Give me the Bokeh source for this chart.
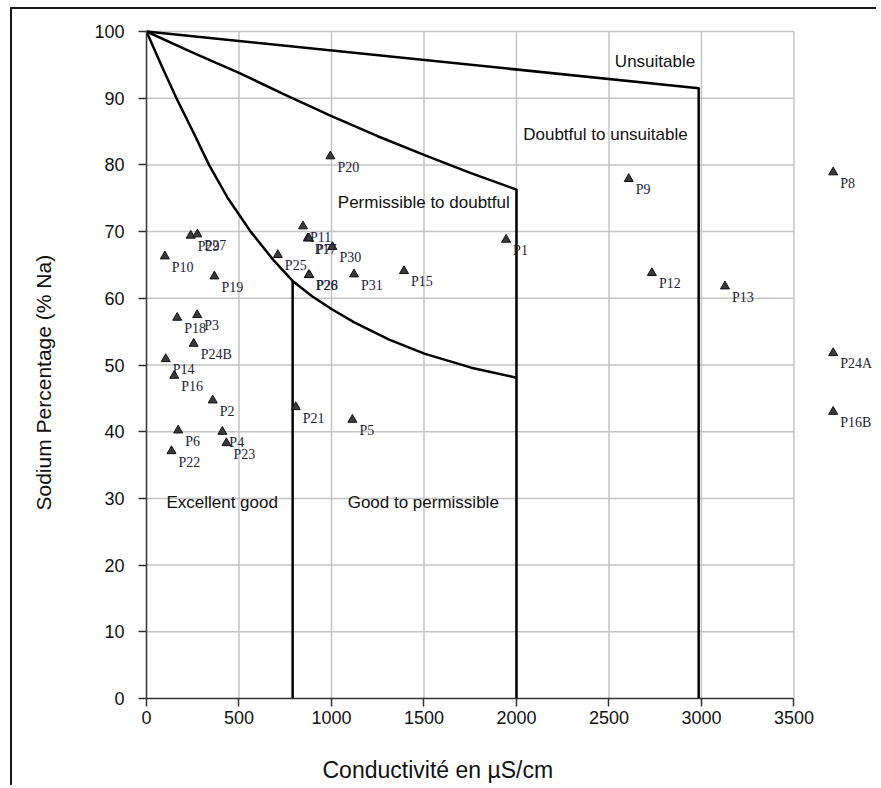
from bokeh.plotting import figure
from bokeh.models import Range1d, FixedTicker, ColumnDataSource, Title
from bokeh.core.properties import value
from bokeh.embed import file_html
from bokeh.resources import INLINE

# ---------------- data ----------------
names = ["P29", "P27", "P10", "P19", "P18", "P3", "P24B", "P14", "P16", "P2",
         "P6", "P4", "P23", "P22", "P21", "P25", "P11", "P17", "P7", "P30",
         "P26", "P28", "P31", "P15", "P1", "P20", "P5", "P9", "P12", "P13",
         "P8", "P24A", "P16B"]
conductivity = [239, 275, 99, 367, 166, 274, 255, 104, 150, 358,
                171, 410, 432, 135, 807, 710, 846, 872, 878, 1005,
                877, 880, 1122, 1392, 1944, 994, 1113, 2607, 2732, 3127,
                3712, 3712, 3712]
sodium_pct = [69.4, 69.6, 66.3, 63.3, 57.1, 57.5, 53.2, 50.9, 48.4, 44.7,
              40.2, 40.0, 38.3, 37.1, 43.7, 66.5, 70.8, 69.0, 69.0, 67.7,
              63.5, 63.5, 63.6, 64.1, 68.8, 81.3, 41.8, 77.9, 63.8, 61.8,
              78.9, 51.8, 43.0]

# Wilcox class boundaries
b_unsuit_x = [0, 2985, 2985]
b_unsuit_y = [100, 91.5, 0]
b_doubt_x = [0, 238, 500, 750, 1000, 1250, 1500, 1750, 2000, 2000]
b_doubt_y = [100, 97.0, 93.8, 90.5, 87.3, 84.3, 81.5, 78.8, 76.3, 0]
b_perm_x = [0, 79, 162, 251, 338, 440, 563, 690, 790, 895, 1000, 1123, 1312,
            1502, 1755, 2000]
b_perm_y = [100, 95.0, 90.0, 85.0, 80.0, 75.0, 70.0, 65.6, 62.6, 60.3, 58.4,
            56.4, 53.8, 51.7, 49.6, 48.1]
b_good_x = [790, 790]
b_good_y = [62.6, 0]

zone_names = ["Unsuitable", "Doubtful to unsuitable", "Permissible to doubtful",
              "Excellent good", "Good to permissible"]

x_ticks = [0, 500, 1000, 1500, 2000, 2500, 3000, 3500]
y_ticks = [0, 10, 20, 30, 40, 50, 60, 70, 80, 90, 100]

x_title = "Conductivité en µS/cm"
y_title = "Sodium Percentage (% Na)"

# ---------------- figure ----------------
SANS = "Liberation Sans"
SERIF = "Liberation Serif"

p = figure(width=866, height=778, output_backend="svg", toolbar_location=None,
           x_range=Range1d(0, 3957), y_range=Range1d(0, 101.5),
           min_border_left=134, min_border_right=0, min_border_top=12,
           min_border_bottom=89)
p.margin = (7, 0, 0, 10)
p.styles = {"border-left": "2px solid #1a1a1a", "border-top": "2px solid #1a1a1a"}
p.outline_line_color = None
p.xgrid.grid_line_color = None
p.ygrid.grid_line_color = None
p.background_fill_color = "white"
p.border_fill_color = "white"

# grid limited to the 0..3500 / 0..100 box
p.segment(x0=x_ticks[1:], y0=y_ticks[0], x1=x_ticks[1:], y1=y_ticks[-1],
          line_color="#c4c4c4", line_width=1.5)
p.segment(x0=x_ticks[0], y0=y_ticks[1:], x1=x_ticks[-1], y1=y_ticks[1:],
          line_color="#c4c4c4", line_width=1.5)

for ax, ticks in ((p.xaxis[0], x_ticks), (p.yaxis[0], y_ticks)):
    ax.ticker = FixedTicker(ticks=ticks)
    ax.bounds = (ticks[0], ticks[-1])
    ax.axis_line_color = "#333333"
    ax.axis_line_width = 1.5
    ax.major_tick_line_color = "#333333"
    ax.major_tick_line_width = 1.5
    ax.major_tick_out = 8
    ax.major_tick_in = 0
    ax.minor_tick_line_color = None
    ax.major_label_text_font = SANS
    ax.major_label_text_font_size = "18px"
    ax.major_label_text_color = "#111111"
p.xaxis[0].major_label_standoff = 4
p.yaxis[0].major_label_standoff = 14
p.yaxis[0].major_label_orientation = "horizontal"

# boundaries
for bx, by in ((b_unsuit_x, b_unsuit_y), (b_doubt_x, b_doubt_y),
               (b_perm_x, b_perm_y), (b_good_x, b_good_y)):
    p.line(bx, by, line_color="#000000", line_width=2.5, line_join="round")

# zone labels
zone_x = [2749, 2481, 1499, 409, 1496]
zone_y = [95.5, 84.6, 74.4, 29.4, 29.4]
p.text(x=zone_x, y=zone_y, text=zone_names, text_align="center",
       text_baseline="middle", text_font=value(SANS), text_font_size="17px",
       text_color="#111111")

# samples
src = ColumnDataSource(dict(x=conductivity, y=sodium_pct, name=names))
p.scatter("x", "y", source=src, marker="triangle", size=9,
          fill_color="#3a3a3a", line_color="#111111", line_width=1)
p.text("x", "y", text="name", source=src, x_offset=7, y_offset=11,
       text_baseline="middle", text_align="left", text_font=value(SERIF),
       text_font_size="14px", text_color="#22223a")

# axis titles, pushed outward by blank spacer titles
p.add_layout(Title(text=" ", text_font_size="12px", standoff=12), "below")
p.add_layout(Title(text=x_title, align="left", offset=176, standoff=0,
                   text_font=SANS, text_font_size="23px",
                   text_font_style="normal", text_color="#111111"), "below")
p.add_layout(Title(text=" ", text_font_size="12px", standoff=21), "left")
p.add_layout(Title(text=y_title, align="left", offset=188, standoff=0,
                   text_font=SANS, text_font_size="21px",
                   text_font_style="normal", text_color="#111111"), "left")

open("out.html", "w").write(file_html(p, INLINE))
